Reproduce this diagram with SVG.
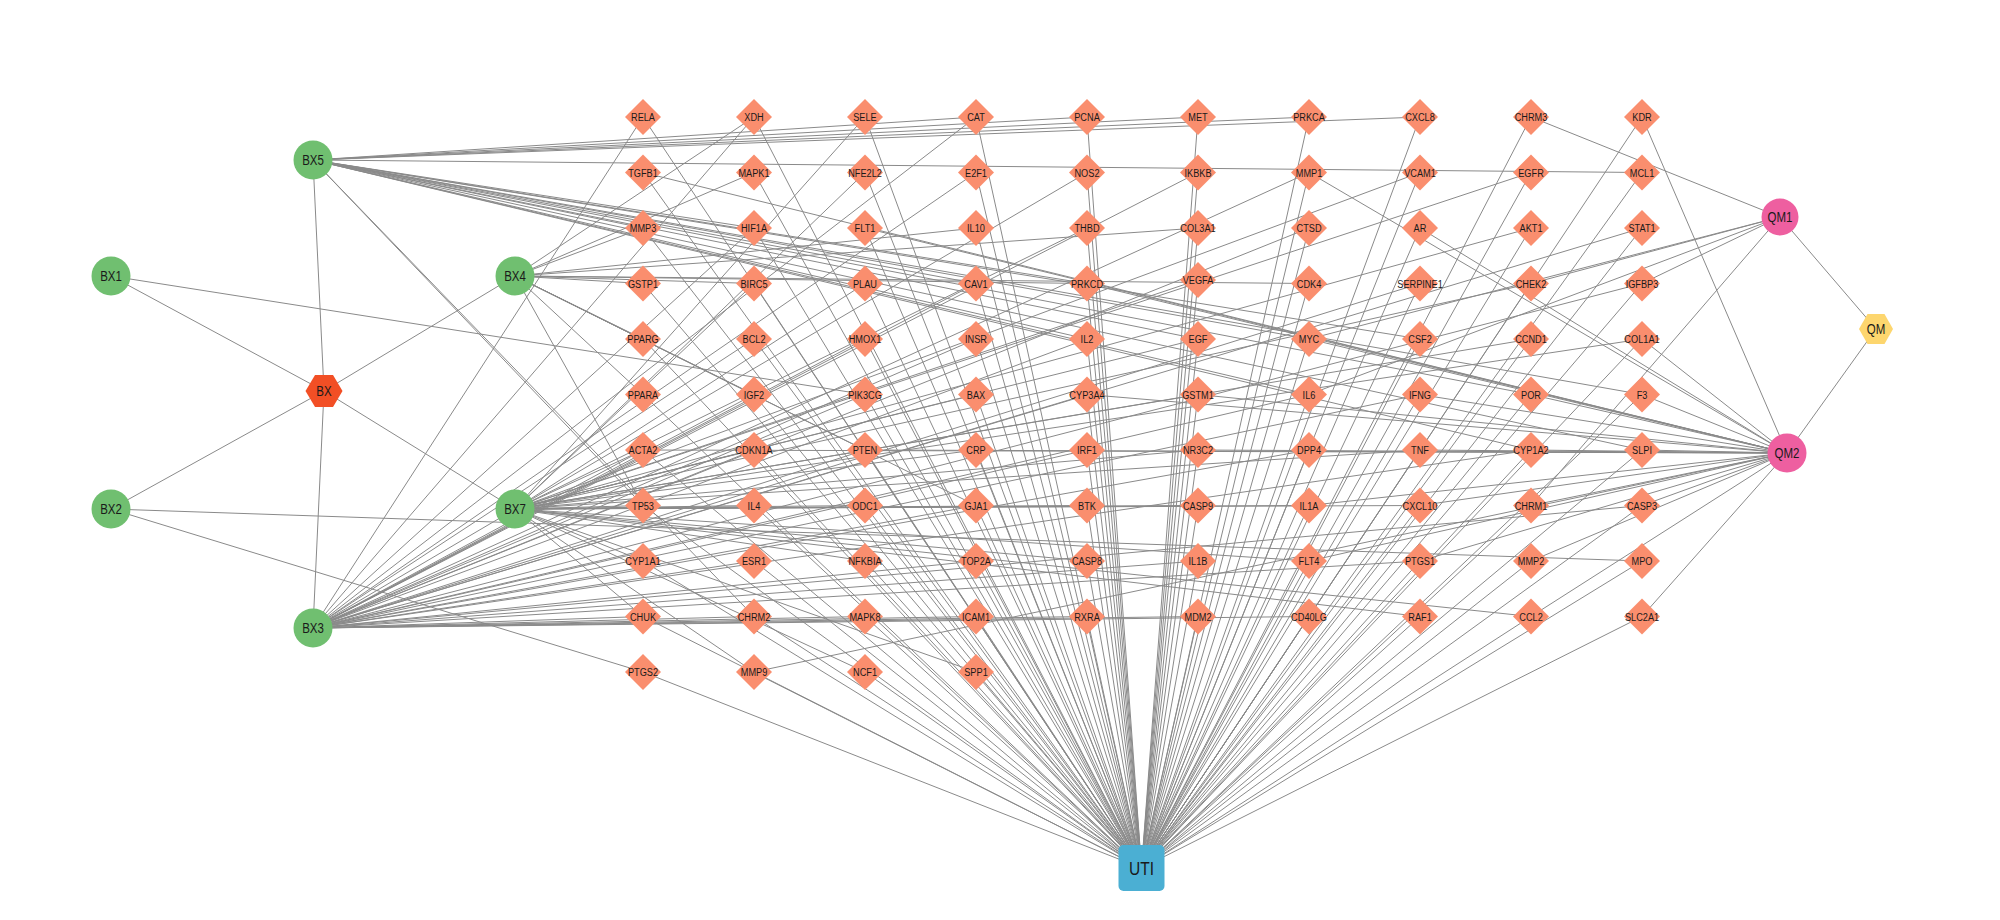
<svg xmlns="http://www.w3.org/2000/svg" xmlns:xlink="http://www.w3.org/1999/xlink" width="2000" height="920" viewBox="0 0 2000 920">
<style>
.e line{stroke:#8a8a8a;stroke-width:1}
.dia{fill:#FA8E6E}
.grn{fill:#70BF70}
.pnk{fill:#EE5FA0}
text{font-family:"Liberation Sans",Arial,sans-serif;text-anchor:middle;fill:#1a1a1a}
.tl{font-size:11.5px}
.tc{font-size:14px}
.tu{font-size:19px}
</style>
<defs>
<polygon id="d" points="0,-18 18,0 0,18 -18,0"/>
</defs>
<rect width="2000" height="920" fill="#fff"/>
<g class="e" id="edges">
<!-- herb-compound -->
<line x1="324" y1="391" x2="111" y2="276"/><line x1="324" y1="391" x2="111" y2="509"/><line x1="324" y1="391" x2="313" y2="628"/><line x1="324" y1="391" x2="515" y2="276"/><line x1="324" y1="391" x2="313" y2="160"/><line x1="324" y1="391" x2="515" y2="509"/>
<line x1="1876" y1="329" x2="1780" y2="217"/><line x1="1876" y1="329" x2="1787" y2="453"/>
<!-- BX1, BX2 -->
<line x1="111" y1="276" x2="865" y2="394.5"/>
<line x1="111" y1="509" x2="643" y2="672"/><line x1="111" y1="509" x2="1642" y2="561"/>
<!-- BX3 -->
<line x1="313" y1="628" x2="643" y2="117"/><line x1="313" y1="628" x2="754" y2="117"/><line x1="313" y1="628" x2="976" y2="117"/><line x1="313" y1="628" x2="976" y2="172.5"/><line x1="313" y1="628" x2="1087" y2="172.5"/><line x1="313" y1="628" x2="1198" y2="172.5"/><line x1="313" y1="628" x2="1309" y2="172.5"/><line x1="313" y1="628" x2="754" y2="228"/><line x1="313" y1="628" x2="1309" y2="228"/><line x1="313" y1="628" x2="1642" y2="228"/><line x1="313" y1="628" x2="976" y2="283.5"/><line x1="313" y1="628" x2="1420" y2="283.5"/><line x1="313" y1="628" x2="1642" y2="283.5"/><line x1="313" y1="628" x2="754" y2="339"/><line x1="313" y1="628" x2="865" y2="339"/><line x1="313" y1="628" x2="976" y2="339"/><line x1="313" y1="628" x2="1087" y2="339"/><line x1="313" y1="628" x2="754" y2="394.5"/><line x1="313" y1="628" x2="865" y2="394.5"/><line x1="313" y1="628" x2="1087" y2="394.5"/><line x1="313" y1="628" x2="1309" y2="394.5"/><line x1="313" y1="628" x2="1420" y2="394.5"/><line x1="313" y1="628" x2="643" y2="450"/><line x1="313" y1="628" x2="754" y2="450"/><line x1="313" y1="628" x2="865" y2="450"/><line x1="313" y1="628" x2="1087" y2="450"/><line x1="313" y1="628" x2="1309" y2="450"/><line x1="313" y1="628" x2="1531" y2="450"/><line x1="313" y1="628" x2="976" y2="505.5"/><line x1="313" y1="628" x2="1642" y2="505.5"/><line x1="313" y1="628" x2="754" y2="561"/><line x1="313" y1="628" x2="976" y2="561"/><line x1="313" y1="628" x2="1198" y2="561"/><line x1="313" y1="628" x2="1420" y2="561"/><line x1="313" y1="628" x2="643" y2="616.5"/><line x1="313" y1="628" x2="754" y2="616.5"/><line x1="313" y1="628" x2="865" y2="616.5"/><line x1="313" y1="628" x2="976" y2="616.5"/><line x1="313" y1="628" x2="1087" y2="616.5"/><line x1="313" y1="628" x2="1309" y2="616.5"/><line x1="313" y1="628" x2="1198" y2="616.5"/>
<!-- BX7 -->
<line x1="515" y1="509" x2="865" y2="117"/><line x1="515" y1="509" x2="865" y2="172.5"/><line x1="515" y1="509" x2="1420" y2="172.5"/><line x1="515" y1="509" x2="1531" y2="172.5"/><line x1="515" y1="509" x2="1087" y2="228"/><line x1="515" y1="509" x2="1531" y2="228"/><line x1="515" y1="509" x2="1531" y2="283.5"/><line x1="515" y1="509" x2="754" y2="283.5"/><line x1="515" y1="509" x2="865" y2="283.5"/><line x1="515" y1="509" x2="1198" y2="280"/><line x1="515" y1="509" x2="1198" y2="339"/><line x1="515" y1="509" x2="1531" y2="339"/><line x1="515" y1="509" x2="1642" y2="339"/><line x1="515" y1="509" x2="976" y2="394.5"/><line x1="515" y1="509" x2="1198" y2="394.5"/><line x1="515" y1="509" x2="643" y2="450"/><line x1="515" y1="509" x2="754" y2="450"/><line x1="515" y1="509" x2="976" y2="450"/><line x1="515" y1="509" x2="1198" y2="450"/><line x1="515" y1="509" x2="1420" y2="450"/><line x1="515" y1="509" x2="643" y2="505.5"/><line x1="515" y1="509" x2="754" y2="505.5"/><line x1="515" y1="509" x2="865" y2="505.5"/><line x1="515" y1="509" x2="1087" y2="505.5"/><line x1="515" y1="509" x2="1198" y2="505.5"/><line x1="515" y1="509" x2="1309" y2="505.5"/><line x1="515" y1="509" x2="1420" y2="505.5"/><line x1="515" y1="509" x2="643" y2="561"/><line x1="515" y1="509" x2="865" y2="561"/><line x1="515" y1="509" x2="1087" y2="561"/><line x1="515" y1="509" x2="1309" y2="561"/><line x1="515" y1="509" x2="1420" y2="616.5"/><line x1="515" y1="509" x2="1531" y2="616.5"/><line x1="515" y1="509" x2="865" y2="672"/><line x1="515" y1="509" x2="976" y2="672"/><line x1="515" y1="509" x2="754" y2="672"/><line x1="515" y1="509" x2="643" y2="616.5"/>
<!-- BX4 -->
<line x1="515" y1="276" x2="754" y2="117"/><line x1="515" y1="276" x2="754" y2="172.5"/><line x1="515" y1="276" x2="643" y2="228"/><line x1="515" y1="276" x2="976" y2="228"/><line x1="515" y1="276" x2="643" y2="283.5"/><line x1="515" y1="276" x2="754" y2="283.5"/><line x1="515" y1="276" x2="1087" y2="283.5"/><line x1="515" y1="276" x2="1309" y2="283.5"/><line x1="515" y1="276" x2="643" y2="339"/><line x1="515" y1="276" x2="754" y2="394.5"/><line x1="515" y1="276" x2="865" y2="450"/><line x1="515" y1="276" x2="976" y2="505.5"/><line x1="515" y1="276" x2="643" y2="394.5"/><line x1="515" y1="276" x2="643" y2="505.5"/><line x1="515" y1="276" x2="1198" y2="228"/>
<!-- BX5 -->
<line x1="313" y1="160" x2="976" y2="117"/><line x1="313" y1="160" x2="1087" y2="117"/><line x1="313" y1="160" x2="1198" y2="117"/><line x1="313" y1="160" x2="1309" y2="117"/><line x1="313" y1="160" x2="1420" y2="117"/><line x1="313" y1="160" x2="1642" y2="172.5"/><line x1="313" y1="160" x2="643" y2="228"/><line x1="313" y1="160" x2="754" y2="228"/><line x1="313" y1="160" x2="976" y2="283.5"/><line x1="313" y1="160" x2="1087" y2="283.5"/><line x1="313" y1="160" x2="1087" y2="339"/><line x1="313" y1="160" x2="1198" y2="339"/><line x1="313" y1="160" x2="1309" y2="339"/><line x1="313" y1="160" x2="1420" y2="339"/><line x1="313" y1="160" x2="1309" y2="394.5"/><line x1="313" y1="160" x2="1531" y2="394.5"/><line x1="313" y1="160" x2="1642" y2="394.5"/><line x1="313" y1="160" x2="1642" y2="450"/><line x1="313" y1="160" x2="1531" y2="450"/><line x1="313" y1="160" x2="643" y2="505.5"/><line x1="313" y1="160" x2="754" y2="616.5"/>
<!-- QM1 -->
<line x1="1780" y1="217" x2="1531" y2="117"/><line x1="1780" y1="217" x2="1531" y2="283.5"/><line x1="1780" y1="217" x2="1642" y2="283.5"/><line x1="1780" y1="217" x2="1309" y2="394.5"/><line x1="1780" y1="217" x2="1309" y2="339"/><line x1="1780" y1="217" x2="1531" y2="505.5"/>
<!-- QM2 -->
<line x1="1787" y1="453" x2="1642" y2="117"/><line x1="1787" y1="453" x2="643" y2="172.5"/><line x1="1787" y1="453" x2="865" y2="228"/><line x1="1787" y1="453" x2="1087" y2="283.5"/><line x1="1787" y1="453" x2="1309" y2="339"/><line x1="1787" y1="453" x2="1531" y2="394.5"/><line x1="1787" y1="453" x2="1309" y2="172.5"/><line x1="1787" y1="453" x2="1420" y2="228"/><line x1="1787" y1="453" x2="1642" y2="339"/><line x1="1787" y1="453" x2="1642" y2="394.5"/><line x1="1787" y1="453" x2="1087" y2="394.5"/><line x1="1787" y1="453" x2="1198" y2="394.5"/><line x1="1787" y1="453" x2="643" y2="450"/><line x1="1787" y1="453" x2="865" y2="450"/><line x1="1787" y1="453" x2="1198" y2="450"/><line x1="1787" y1="453" x2="1420" y2="450"/><line x1="1787" y1="453" x2="1531" y2="450"/><line x1="1787" y1="453" x2="1642" y2="450"/><line x1="1787" y1="453" x2="1309" y2="505.5"/><line x1="1787" y1="453" x2="1420" y2="505.5"/><line x1="1787" y1="453" x2="1531" y2="505.5"/><line x1="1787" y1="453" x2="1642" y2="505.5"/><line x1="1787" y1="453" x2="1309" y2="561"/><line x1="1787" y1="453" x2="1420" y2="561"/><line x1="1787" y1="453" x2="1531" y2="561"/><line x1="1787" y1="453" x2="1531" y2="616.5"/><line x1="1787" y1="453" x2="1642" y2="616.5"/><line x1="1787" y1="453" x2="754" y2="672"/><line x1="1787" y1="453" x2="1420" y2="394.5"/>
<!-- UTI -->
<line x1="1141.5" y1="868" x2="643" y2="117"/><line x1="1141.5" y1="868" x2="754" y2="117"/><line x1="1141.5" y1="868" x2="865" y2="117"/><line x1="1141.5" y1="868" x2="976" y2="117"/><line x1="1141.5" y1="868" x2="1087" y2="117"/><line x1="1141.5" y1="868" x2="1198" y2="117"/><line x1="1141.5" y1="868" x2="1309" y2="117"/><line x1="1141.5" y1="868" x2="1420" y2="117"/><line x1="1141.5" y1="868" x2="1531" y2="117"/><line x1="1141.5" y1="868" x2="1642" y2="117"/>
<line x1="1141.5" y1="868" x2="643" y2="172.5"/><line x1="1141.5" y1="868" x2="754" y2="172.5"/><line x1="1141.5" y1="868" x2="865" y2="172.5"/><line x1="1141.5" y1="868" x2="976" y2="172.5"/><line x1="1141.5" y1="868" x2="1087" y2="172.5"/><line x1="1141.5" y1="868" x2="1198" y2="172.5"/><line x1="1141.5" y1="868" x2="1309" y2="172.5"/><line x1="1141.5" y1="868" x2="1420" y2="172.5"/><line x1="1141.5" y1="868" x2="1531" y2="172.5"/><line x1="1141.5" y1="868" x2="1642" y2="172.5"/>
<line x1="1141.5" y1="868" x2="643" y2="228"/><line x1="1141.5" y1="868" x2="754" y2="228"/><line x1="1141.5" y1="868" x2="865" y2="228"/><line x1="1141.5" y1="868" x2="976" y2="228"/><line x1="1141.5" y1="868" x2="1087" y2="228"/><line x1="1141.5" y1="868" x2="1198" y2="228"/><line x1="1141.5" y1="868" x2="1309" y2="228"/><line x1="1141.5" y1="868" x2="1420" y2="228"/><line x1="1141.5" y1="868" x2="1531" y2="228"/><line x1="1141.5" y1="868" x2="1642" y2="228"/>
<line x1="1141.5" y1="868" x2="643" y2="283.5"/><line x1="1141.5" y1="868" x2="754" y2="283.5"/><line x1="1141.5" y1="868" x2="865" y2="283.5"/><line x1="1141.5" y1="868" x2="976" y2="283.5"/><line x1="1141.5" y1="868" x2="1087" y2="283.5"/><line x1="1141.5" y1="868" x2="1198" y2="280"/><line x1="1141.5" y1="868" x2="1309" y2="283.5"/><line x1="1141.5" y1="868" x2="1420" y2="283.5"/><line x1="1141.5" y1="868" x2="1531" y2="283.5"/><line x1="1141.5" y1="868" x2="1642" y2="283.5"/>
<line x1="1141.5" y1="868" x2="643" y2="339"/><line x1="1141.5" y1="868" x2="754" y2="339"/><line x1="1141.5" y1="868" x2="865" y2="339"/><line x1="1141.5" y1="868" x2="976" y2="339"/><line x1="1141.5" y1="868" x2="1087" y2="339"/><line x1="1141.5" y1="868" x2="1198" y2="339"/><line x1="1141.5" y1="868" x2="1309" y2="339"/><line x1="1141.5" y1="868" x2="1420" y2="339"/><line x1="1141.5" y1="868" x2="1531" y2="339"/><line x1="1141.5" y1="868" x2="1642" y2="339"/>
<line x1="1141.5" y1="868" x2="643" y2="394.5"/><line x1="1141.5" y1="868" x2="754" y2="394.5"/><line x1="1141.5" y1="868" x2="865" y2="394.5"/><line x1="1141.5" y1="868" x2="976" y2="394.5"/><line x1="1141.5" y1="868" x2="1087" y2="394.5"/><line x1="1141.5" y1="868" x2="1198" y2="394.5"/><line x1="1141.5" y1="868" x2="1309" y2="394.5"/><line x1="1141.5" y1="868" x2="1420" y2="394.5"/><line x1="1141.5" y1="868" x2="1531" y2="394.5"/><line x1="1141.5" y1="868" x2="1642" y2="394.5"/>
<line x1="1141.5" y1="868" x2="643" y2="450"/><line x1="1141.5" y1="868" x2="754" y2="450"/><line x1="1141.5" y1="868" x2="865" y2="450"/><line x1="1141.5" y1="868" x2="976" y2="450"/><line x1="1141.5" y1="868" x2="1087" y2="450"/><line x1="1141.5" y1="868" x2="1198" y2="450"/><line x1="1141.5" y1="868" x2="1309" y2="450"/><line x1="1141.5" y1="868" x2="1420" y2="450"/><line x1="1141.5" y1="868" x2="1531" y2="450"/><line x1="1141.5" y1="868" x2="1642" y2="450"/>
<line x1="1141.5" y1="868" x2="643" y2="505.5"/><line x1="1141.5" y1="868" x2="754" y2="505.5"/><line x1="1141.5" y1="868" x2="865" y2="505.5"/><line x1="1141.5" y1="868" x2="976" y2="505.5"/><line x1="1141.5" y1="868" x2="1087" y2="505.5"/><line x1="1141.5" y1="868" x2="1198" y2="505.5"/><line x1="1141.5" y1="868" x2="1309" y2="505.5"/><line x1="1141.5" y1="868" x2="1420" y2="505.5"/><line x1="1141.5" y1="868" x2="1531" y2="505.5"/><line x1="1141.5" y1="868" x2="1642" y2="505.5"/>
<line x1="1141.5" y1="868" x2="643" y2="561"/><line x1="1141.5" y1="868" x2="754" y2="561"/><line x1="1141.5" y1="868" x2="865" y2="561"/><line x1="1141.5" y1="868" x2="976" y2="561"/><line x1="1141.5" y1="868" x2="1087" y2="561"/><line x1="1141.5" y1="868" x2="1198" y2="561"/><line x1="1141.5" y1="868" x2="1309" y2="561"/><line x1="1141.5" y1="868" x2="1420" y2="561"/><line x1="1141.5" y1="868" x2="1531" y2="561"/><line x1="1141.5" y1="868" x2="1642" y2="561"/>
<line x1="1141.5" y1="868" x2="643" y2="616.5"/><line x1="1141.5" y1="868" x2="754" y2="616.5"/><line x1="1141.5" y1="868" x2="865" y2="616.5"/><line x1="1141.5" y1="868" x2="976" y2="616.5"/><line x1="1141.5" y1="868" x2="1087" y2="616.5"/><line x1="1141.5" y1="868" x2="1198" y2="616.5"/><line x1="1141.5" y1="868" x2="1309" y2="616.5"/><line x1="1141.5" y1="868" x2="1420" y2="616.5"/><line x1="1141.5" y1="868" x2="1531" y2="616.5"/><line x1="1141.5" y1="868" x2="1642" y2="616.5"/>
<line x1="1141.5" y1="868" x2="643" y2="672"/><line x1="1141.5" y1="868" x2="754" y2="672"/><line x1="1141.5" y1="868" x2="865" y2="672"/><line x1="1141.5" y1="868" x2="976" y2="672"/>
</g>
<g id="n-BX"><polygon points="342.5,391 333,407 315,407 305.5,391 315,375 333,375" fill="#F24F25"/><text class="tc" transform="matrix(.82 0 0 1 324 396)">BX</text></g>
<g id="n-QM"><polygon points="1893,329 1884.5,344 1867.5,344 1859,329 1867.5,314 1884.5,314" fill="#FDD66E"/><text class="tc" transform="matrix(.82 0 0 1 1876 334)">QM</text></g>
<g id="n-BX1"><circle class="grn" cx="111" cy="276" r="19.5"/><text class="tc" transform="matrix(.82 0 0 1 111 281)">BX1</text></g>
<g id="n-BX2"><circle class="grn" cx="111" cy="509" r="19.5"/><text class="tc" transform="matrix(.82 0 0 1 111 514)">BX2</text></g>
<g id="n-BX3"><circle class="grn" cx="313" cy="628" r="19.5"/><text class="tc" transform="matrix(.82 0 0 1 313 633)">BX3</text></g>
<g id="n-BX4"><circle class="grn" cx="515" cy="276" r="19.5"/><text class="tc" transform="matrix(.82 0 0 1 515 281)">BX4</text></g>
<g id="n-BX5"><circle class="grn" cx="313" cy="160" r="19.5"/><text class="tc" transform="matrix(.82 0 0 1 313 165)">BX5</text></g>
<g id="n-BX7"><circle class="grn" cx="515" cy="509" r="19.5"/><text class="tc" transform="matrix(.82 0 0 1 515 514)">BX7</text></g>
<g id="n-QM1"><circle class="pnk" cx="1780" cy="217" r="18.5"/><text class="tc" transform="matrix(.82 0 0 1 1780 222)">QM1</text></g>
<g id="n-QM2"><circle class="pnk" cx="1787" cy="453" r="19.5"/><text class="tc" transform="matrix(.82 0 0 1 1787 458)">QM2</text></g>
<g id="n-UTI"><rect x="1118.5" y="845" width="46" height="46" rx="5" fill="#4BAFD3"/><text class="tu" transform="matrix(.82 0 0 1 1141.5 875)">UTI</text></g>
<g id="targets">
<g id="n-RELA"><use href="#d" class="dia" x="643" y="117"/><text class="tl" transform="matrix(.8 0 0 1 643 121)">RELA</text></g>
<g id="n-XDH"><use href="#d" class="dia" x="754" y="117"/><text class="tl" transform="matrix(.8 0 0 1 754 121)">XDH</text></g>
<g id="n-SELE"><use href="#d" class="dia" x="865" y="117"/><text class="tl" transform="matrix(.8 0 0 1 865 121)">SELE</text></g>
<g id="n-CAT"><use href="#d" class="dia" x="976" y="117"/><text class="tl" transform="matrix(.8 0 0 1 976 121)">CAT</text></g>
<g id="n-PCNA"><use href="#d" class="dia" x="1087" y="117"/><text class="tl" transform="matrix(.8 0 0 1 1087 121)">PCNA</text></g>
<g id="n-MET"><use href="#d" class="dia" x="1198" y="117"/><text class="tl" transform="matrix(.8 0 0 1 1198 121)">MET</text></g>
<g id="n-PRKCA"><use href="#d" class="dia" x="1309" y="117"/><text class="tl" transform="matrix(.8 0 0 1 1309 121)">PRKCA</text></g>
<g id="n-CXCL8"><use href="#d" class="dia" x="1420" y="117"/><text class="tl" transform="matrix(.8 0 0 1 1420 121)">CXCL8</text></g>
<g id="n-CHRM3"><use href="#d" class="dia" x="1531" y="117"/><text class="tl" transform="matrix(.8 0 0 1 1531 121)">CHRM3</text></g>
<g id="n-KDR"><use href="#d" class="dia" x="1642" y="117"/><text class="tl" transform="matrix(.8 0 0 1 1642 121)">KDR</text></g>
<g id="n-TGFB1"><use href="#d" class="dia" x="643" y="172.5"/><text class="tl" transform="matrix(.8 0 0 1 643 176.5)">TGFB1</text></g>
<g id="n-MAPK1"><use href="#d" class="dia" x="754" y="172.5"/><text class="tl" transform="matrix(.8 0 0 1 754 176.5)">MAPK1</text></g>
<g id="n-NFE2L2"><use href="#d" class="dia" x="865" y="172.5"/><text class="tl" transform="matrix(.8 0 0 1 865 176.5)">NFE2L2</text></g>
<g id="n-E2F1"><use href="#d" class="dia" x="976" y="172.5"/><text class="tl" transform="matrix(.8 0 0 1 976 176.5)">E2F1</text></g>
<g id="n-NOS2"><use href="#d" class="dia" x="1087" y="172.5"/><text class="tl" transform="matrix(.8 0 0 1 1087 176.5)">NOS2</text></g>
<g id="n-IKBKB"><use href="#d" class="dia" x="1198" y="172.5"/><text class="tl" transform="matrix(.8 0 0 1 1198 176.5)">IKBKB</text></g>
<g id="n-MMP1"><use href="#d" class="dia" x="1309" y="172.5"/><text class="tl" transform="matrix(.8 0 0 1 1309 176.5)">MMP1</text></g>
<g id="n-VCAM1"><use href="#d" class="dia" x="1420" y="172.5"/><text class="tl" transform="matrix(.8 0 0 1 1420 176.5)">VCAM1</text></g>
<g id="n-EGFR"><use href="#d" class="dia" x="1531" y="172.5"/><text class="tl" transform="matrix(.8 0 0 1 1531 176.5)">EGFR</text></g>
<g id="n-MCL1"><use href="#d" class="dia" x="1642" y="172.5"/><text class="tl" transform="matrix(.8 0 0 1 1642 176.5)">MCL1</text></g>
<g id="n-MMP3"><use href="#d" class="dia" x="643" y="228"/><text class="tl" transform="matrix(.8 0 0 1 643 232)">MMP3</text></g>
<g id="n-HIF1A"><use href="#d" class="dia" x="754" y="228"/><text class="tl" transform="matrix(.8 0 0 1 754 232)">HIF1A</text></g>
<g id="n-FLT1"><use href="#d" class="dia" x="865" y="228"/><text class="tl" transform="matrix(.8 0 0 1 865 232)">FLT1</text></g>
<g id="n-IL10"><use href="#d" class="dia" x="976" y="228"/><text class="tl" transform="matrix(.8 0 0 1 976 232)">IL10</text></g>
<g id="n-THBD"><use href="#d" class="dia" x="1087" y="228"/><text class="tl" transform="matrix(.8 0 0 1 1087 232)">THBD</text></g>
<g id="n-COL3A1"><use href="#d" class="dia" x="1198" y="228"/><text class="tl" transform="matrix(.8 0 0 1 1198 232)">COL3A1</text></g>
<g id="n-CTSD"><use href="#d" class="dia" x="1309" y="228"/><text class="tl" transform="matrix(.8 0 0 1 1309 232)">CTSD</text></g>
<g id="n-AR"><use href="#d" class="dia" x="1420" y="228"/><text class="tl" transform="matrix(.8 0 0 1 1420 232)">AR</text></g>
<g id="n-AKT1"><use href="#d" class="dia" x="1531" y="228"/><text class="tl" transform="matrix(.8 0 0 1 1531 232)">AKT1</text></g>
<g id="n-STAT1"><use href="#d" class="dia" x="1642" y="228"/><text class="tl" transform="matrix(.8 0 0 1 1642 232)">STAT1</text></g>
<g id="n-GSTP1"><use href="#d" class="dia" x="643" y="283.5"/><text class="tl" transform="matrix(.8 0 0 1 643 287.5)">GSTP1</text></g>
<g id="n-BIRC5"><use href="#d" class="dia" x="754" y="283.5"/><text class="tl" transform="matrix(.8 0 0 1 754 287.5)">BIRC5</text></g>
<g id="n-PLAU"><use href="#d" class="dia" x="865" y="283.5"/><text class="tl" transform="matrix(.8 0 0 1 865 287.5)">PLAU</text></g>
<g id="n-CAV1"><use href="#d" class="dia" x="976" y="283.5"/><text class="tl" transform="matrix(.8 0 0 1 976 287.5)">CAV1</text></g>
<g id="n-PRKCD"><use href="#d" class="dia" x="1087" y="283.5"/><text class="tl" transform="matrix(.8 0 0 1 1087 287.5)">PRKCD</text></g>
<g id="n-VEGFA"><use href="#d" class="dia" x="1198" y="280"/><text class="tl" transform="matrix(.8 0 0 1 1198 284)">VEGFA</text></g>
<g id="n-CDK4"><use href="#d" class="dia" x="1309" y="283.5"/><text class="tl" transform="matrix(.8 0 0 1 1309 287.5)">CDK4</text></g>
<g id="n-SERPINE1"><use href="#d" class="dia" x="1420" y="283.5"/><text class="tl" transform="matrix(.8 0 0 1 1420 287.5)">SERPINE1</text></g>
<g id="n-CHEK2"><use href="#d" class="dia" x="1531" y="283.5"/><text class="tl" transform="matrix(.8 0 0 1 1531 287.5)">CHEK2</text></g>
<g id="n-IGFBP3"><use href="#d" class="dia" x="1642" y="283.5"/><text class="tl" transform="matrix(.8 0 0 1 1642 287.5)">IGFBP3</text></g>
<g id="n-PPARG"><use href="#d" class="dia" x="643" y="339"/><text class="tl" transform="matrix(.8 0 0 1 643 343)">PPARG</text></g>
<g id="n-BCL2"><use href="#d" class="dia" x="754" y="339"/><text class="tl" transform="matrix(.8 0 0 1 754 343)">BCL2</text></g>
<g id="n-HMOX1"><use href="#d" class="dia" x="865" y="339"/><text class="tl" transform="matrix(.8 0 0 1 865 343)">HMOX1</text></g>
<g id="n-INSR"><use href="#d" class="dia" x="976" y="339"/><text class="tl" transform="matrix(.8 0 0 1 976 343)">INSR</text></g>
<g id="n-IL2"><use href="#d" class="dia" x="1087" y="339"/><text class="tl" transform="matrix(.8 0 0 1 1087 343)">IL2</text></g>
<g id="n-EGF"><use href="#d" class="dia" x="1198" y="339"/><text class="tl" transform="matrix(.8 0 0 1 1198 343)">EGF</text></g>
<g id="n-MYC"><use href="#d" class="dia" x="1309" y="339"/><text class="tl" transform="matrix(.8 0 0 1 1309 343)">MYC</text></g>
<g id="n-CSF2"><use href="#d" class="dia" x="1420" y="339"/><text class="tl" transform="matrix(.8 0 0 1 1420 343)">CSF2</text></g>
<g id="n-CCND1"><use href="#d" class="dia" x="1531" y="339"/><text class="tl" transform="matrix(.8 0 0 1 1531 343)">CCND1</text></g>
<g id="n-COL1A1"><use href="#d" class="dia" x="1642" y="339"/><text class="tl" transform="matrix(.8 0 0 1 1642 343)">COL1A1</text></g>
<g id="n-PPARA"><use href="#d" class="dia" x="643" y="394.5"/><text class="tl" transform="matrix(.8 0 0 1 643 398.5)">PPARA</text></g>
<g id="n-IGF2"><use href="#d" class="dia" x="754" y="394.5"/><text class="tl" transform="matrix(.8 0 0 1 754 398.5)">IGF2</text></g>
<g id="n-PIK3CG"><use href="#d" class="dia" x="865" y="394.5"/><text class="tl" transform="matrix(.8 0 0 1 865 398.5)">PIK3CG</text></g>
<g id="n-BAX"><use href="#d" class="dia" x="976" y="394.5"/><text class="tl" transform="matrix(.8 0 0 1 976 398.5)">BAX</text></g>
<g id="n-CYP3A4"><use href="#d" class="dia" x="1087" y="394.5"/><text class="tl" transform="matrix(.8 0 0 1 1087 398.5)">CYP3A4</text></g>
<g id="n-GSTM1"><use href="#d" class="dia" x="1198" y="394.5"/><text class="tl" transform="matrix(.8 0 0 1 1198 398.5)">GSTM1</text></g>
<g id="n-IL6"><use href="#d" class="dia" x="1309" y="394.5"/><text class="tl" transform="matrix(.8 0 0 1 1309 398.5)">IL6</text></g>
<g id="n-IFNG"><use href="#d" class="dia" x="1420" y="394.5"/><text class="tl" transform="matrix(.8 0 0 1 1420 398.5)">IFNG</text></g>
<g id="n-POR"><use href="#d" class="dia" x="1531" y="394.5"/><text class="tl" transform="matrix(.8 0 0 1 1531 398.5)">POR</text></g>
<g id="n-F3"><use href="#d" class="dia" x="1642" y="394.5"/><text class="tl" transform="matrix(.8 0 0 1 1642 398.5)">F3</text></g>
<g id="n-ACTA2"><use href="#d" class="dia" x="643" y="450"/><text class="tl" transform="matrix(.8 0 0 1 643 454)">ACTA2</text></g>
<g id="n-CDKN1A"><use href="#d" class="dia" x="754" y="450"/><text class="tl" transform="matrix(.8 0 0 1 754 454)">CDKN1A</text></g>
<g id="n-PTEN"><use href="#d" class="dia" x="865" y="450"/><text class="tl" transform="matrix(.8 0 0 1 865 454)">PTEN</text></g>
<g id="n-CRP"><use href="#d" class="dia" x="976" y="450"/><text class="tl" transform="matrix(.8 0 0 1 976 454)">CRP</text></g>
<g id="n-IRF1"><use href="#d" class="dia" x="1087" y="450"/><text class="tl" transform="matrix(.8 0 0 1 1087 454)">IRF1</text></g>
<g id="n-NR3C2"><use href="#d" class="dia" x="1198" y="450"/><text class="tl" transform="matrix(.8 0 0 1 1198 454)">NR3C2</text></g>
<g id="n-DPP4"><use href="#d" class="dia" x="1309" y="450"/><text class="tl" transform="matrix(.8 0 0 1 1309 454)">DPP4</text></g>
<g id="n-TNF"><use href="#d" class="dia" x="1420" y="450"/><text class="tl" transform="matrix(.8 0 0 1 1420 454)">TNF</text></g>
<g id="n-CYP1A2"><use href="#d" class="dia" x="1531" y="450"/><text class="tl" transform="matrix(.8 0 0 1 1531 454)">CYP1A2</text></g>
<g id="n-SLPI"><use href="#d" class="dia" x="1642" y="450"/><text class="tl" transform="matrix(.8 0 0 1 1642 454)">SLPI</text></g>
<g id="n-TP53"><use href="#d" class="dia" x="643" y="505.5"/><text class="tl" transform="matrix(.8 0 0 1 643 509.5)">TP53</text></g>
<g id="n-IL4"><use href="#d" class="dia" x="754" y="505.5"/><text class="tl" transform="matrix(.8 0 0 1 754 509.5)">IL4</text></g>
<g id="n-ODC1"><use href="#d" class="dia" x="865" y="505.5"/><text class="tl" transform="matrix(.8 0 0 1 865 509.5)">ODC1</text></g>
<g id="n-GJA1"><use href="#d" class="dia" x="976" y="505.5"/><text class="tl" transform="matrix(.8 0 0 1 976 509.5)">GJA1</text></g>
<g id="n-BTK"><use href="#d" class="dia" x="1087" y="505.5"/><text class="tl" transform="matrix(.8 0 0 1 1087 509.5)">BTK</text></g>
<g id="n-CASP9"><use href="#d" class="dia" x="1198" y="505.5"/><text class="tl" transform="matrix(.8 0 0 1 1198 509.5)">CASP9</text></g>
<g id="n-IL1A"><use href="#d" class="dia" x="1309" y="505.5"/><text class="tl" transform="matrix(.8 0 0 1 1309 509.5)">IL1A</text></g>
<g id="n-CXCL10"><use href="#d" class="dia" x="1420" y="505.5"/><text class="tl" transform="matrix(.8 0 0 1 1420 509.5)">CXCL10</text></g>
<g id="n-CHRM1"><use href="#d" class="dia" x="1531" y="505.5"/><text class="tl" transform="matrix(.8 0 0 1 1531 509.5)">CHRM1</text></g>
<g id="n-CASP3"><use href="#d" class="dia" x="1642" y="505.5"/><text class="tl" transform="matrix(.8 0 0 1 1642 509.5)">CASP3</text></g>
<g id="n-CYP1A1"><use href="#d" class="dia" x="643" y="561"/><text class="tl" transform="matrix(.8 0 0 1 643 565)">CYP1A1</text></g>
<g id="n-ESR1"><use href="#d" class="dia" x="754" y="561"/><text class="tl" transform="matrix(.8 0 0 1 754 565)">ESR1</text></g>
<g id="n-NFKBIA"><use href="#d" class="dia" x="865" y="561"/><text class="tl" transform="matrix(.8 0 0 1 865 565)">NFKBIA</text></g>
<g id="n-TOP2A"><use href="#d" class="dia" x="976" y="561"/><text class="tl" transform="matrix(.8 0 0 1 976 565)">TOP2A</text></g>
<g id="n-CASP8"><use href="#d" class="dia" x="1087" y="561"/><text class="tl" transform="matrix(.8 0 0 1 1087 565)">CASP8</text></g>
<g id="n-IL1B"><use href="#d" class="dia" x="1198" y="561"/><text class="tl" transform="matrix(.8 0 0 1 1198 565)">IL1B</text></g>
<g id="n-FLT4"><use href="#d" class="dia" x="1309" y="561"/><text class="tl" transform="matrix(.8 0 0 1 1309 565)">FLT4</text></g>
<g id="n-PTGS1"><use href="#d" class="dia" x="1420" y="561"/><text class="tl" transform="matrix(.8 0 0 1 1420 565)">PTGS1</text></g>
<g id="n-MMP2"><use href="#d" class="dia" x="1531" y="561"/><text class="tl" transform="matrix(.8 0 0 1 1531 565)">MMP2</text></g>
<g id="n-MPO"><use href="#d" class="dia" x="1642" y="561"/><text class="tl" transform="matrix(.8 0 0 1 1642 565)">MPO</text></g>
<g id="n-CHUK"><use href="#d" class="dia" x="643" y="616.5"/><text class="tl" transform="matrix(.8 0 0 1 643 620.5)">CHUK</text></g>
<g id="n-CHRM2"><use href="#d" class="dia" x="754" y="616.5"/><text class="tl" transform="matrix(.8 0 0 1 754 620.5)">CHRM2</text></g>
<g id="n-MAPK8"><use href="#d" class="dia" x="865" y="616.5"/><text class="tl" transform="matrix(.8 0 0 1 865 620.5)">MAPK8</text></g>
<g id="n-ICAM1"><use href="#d" class="dia" x="976" y="616.5"/><text class="tl" transform="matrix(.8 0 0 1 976 620.5)">ICAM1</text></g>
<g id="n-RXRA"><use href="#d" class="dia" x="1087" y="616.5"/><text class="tl" transform="matrix(.8 0 0 1 1087 620.5)">RXRA</text></g>
<g id="n-MDM2"><use href="#d" class="dia" x="1198" y="616.5"/><text class="tl" transform="matrix(.8 0 0 1 1198 620.5)">MDM2</text></g>
<g id="n-CD40LG"><use href="#d" class="dia" x="1309" y="616.5"/><text class="tl" transform="matrix(.8 0 0 1 1309 620.5)">CD40LG</text></g>
<g id="n-RAF1"><use href="#d" class="dia" x="1420" y="616.5"/><text class="tl" transform="matrix(.8 0 0 1 1420 620.5)">RAF1</text></g>
<g id="n-CCL2"><use href="#d" class="dia" x="1531" y="616.5"/><text class="tl" transform="matrix(.8 0 0 1 1531 620.5)">CCL2</text></g>
<g id="n-SLC2A1"><use href="#d" class="dia" x="1642" y="616.5"/><text class="tl" transform="matrix(.8 0 0 1 1642 620.5)">SLC2A1</text></g>
<g id="n-PTGS2"><use href="#d" class="dia" x="643" y="672"/><text class="tl" transform="matrix(.8 0 0 1 643 676)">PTGS2</text></g>
<g id="n-MMP9"><use href="#d" class="dia" x="754" y="672"/><text class="tl" transform="matrix(.8 0 0 1 754 676)">MMP9</text></g>
<g id="n-NCF1"><use href="#d" class="dia" x="865" y="672"/><text class="tl" transform="matrix(.8 0 0 1 865 676)">NCF1</text></g>
<g id="n-SPP1"><use href="#d" class="dia" x="976" y="672"/><text class="tl" transform="matrix(.8 0 0 1 976 676)">SPP1</text></g>
</g>
</svg>
